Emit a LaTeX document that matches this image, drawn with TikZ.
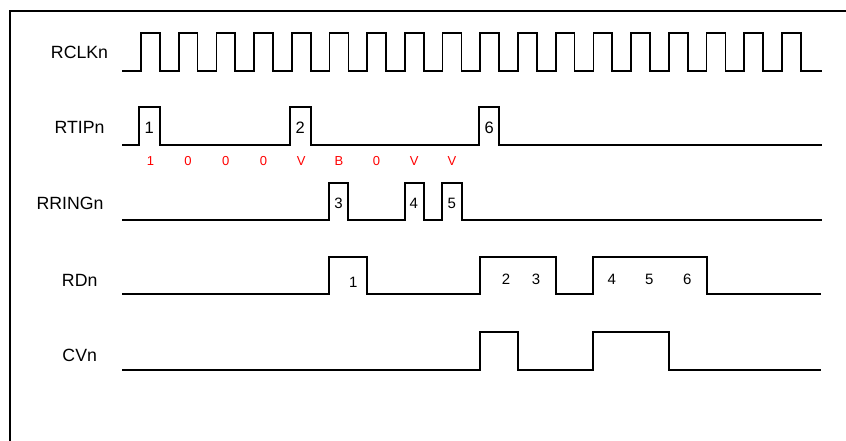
\documentclass[tikz,border=0pt]{standalone}
\usepackage{fontspec}
\setmainfont{Liberation Sans}
\usepackage{tikz}
\usetikzlibrary{positioning}

\begin{document}
\begin{tikzpicture}
    [ x = 1pt, y = -1pt
    , signame/.style =
      { inner sep = 0pt, font = \fontsize{17.7}{20}\selectfont }
    , pulselbl/.style =
      { inner sep = 0pt, font = \fontsize{15}{18}\selectfont }
    , bitlbl/.style =
      { inner sep = 0pt, red, font = \fontsize{13}{16}\selectfont }
    , wave/.style =
      { line width = 1.7pt }
    , outline/.style =
      { line width = 2.3pt }
    ]
    \useasboundingbox (0,0) rectangle (846,440);
    \draw [outline] (10,441) -- (10,11) -- (846,11);

    % signal names
    \node [signame] (rclk) at (79.5,52.3) {RCLKn};
    \node [signame] (rtip) at (79.5,127.7) {RTIPn};
    \node [signame] (rring) at (70,203.3) {RRINGn};
    \node [signame] (rd) at (79.7,280) {RDn};
    \node [signame] (cv) at (79.7,355) {CVn};

    % clock
    \draw [wave] (122,71)
      \foreach \k in {0,...,17}
        { -- ({141+\k*37.7},71) -- ({141+\k*37.7},33)
          -- ({159.85+\k*37.7},33) -- ({159.85+\k*37.7},71) }
      -- (821.5,71);

    % RTIPn
    \draw [wave] (122,144.7) -- (139.3,144.7) -- (139.3,107) -- (159.7,107)
      -- (159.7,144.7) -- (290,144.7) -- (290,107) -- (310.7,107)
      -- (310.7,144.7) -- (479.3,144.7) -- (479.3,107) -- (499.3,107)
      -- (499.3,144.7) -- (821.5,144.7);
    \node [pulselbl, font = \fontsize{16.5}{18}\selectfont] (tip1) at (149.3,127.7) {1};
    \node [pulselbl, font = \fontsize{16.5}{18}\selectfont] (tip2) at (300.3,127.7) {2};
    \node [pulselbl, font = \fontsize{16.5}{18}\selectfont] (tip6) at (489.3,127.7) {6};

    % line code
    \foreach \b/\t [count=\i] in {1/1,2/0,3/0,4/0,5/V,6/B,7/0,8/V,9/V}
      \node [bitlbl] (bit\i) at ({150.4+(\b-1)*37.7},161.5) {\t};

    % RRINGn
    \draw [wave] (122,220) -- (329.3,220) -- (329.3,182.7) -- (348.3,182.7)
      -- (348.3,220) -- (405,220) -- (405,182.7) -- (424,182.7)
      -- (424,220) -- (442.3,220) -- (442.3,182.7) -- (461.7,182.7)
      -- (461.7,220) -- (821.5,220);
    \node [pulselbl] (ring3) at (338.5,203) {3};
    \node [pulselbl] (ring4) at (413.7,203) {4};
    \node [pulselbl] (ring5) at (451.7,203) {5};

    % RDn
    \draw [wave] (122,294) -- (329.3,294) -- (329.3,256.7) -- (366.7,256.7)
      -- (366.7,294) -- (480,294) -- (480,256.7) -- (556,256.7)
      -- (556,294) -- (593.3,294) -- (593.3,256.7) -- (707.3,256.7)
      -- (707.3,294) -- (820.5,294);
    \node [pulselbl] (rd1) at (353.3,282.7) {1};
    \node [pulselbl] (rd2) at (506,279.3) {2};
    \node [pulselbl] (rd3) at (536,279.3) {3};
    \node [pulselbl] (rd4) at (611.7,279.3) {4};
    \node [pulselbl] (rd5) at (649.3,279.3) {5};
    \node [pulselbl] (rd6) at (687.3,279.3) {6};

    % CVn
    \draw [wave] (122,370) -- (480,370) -- (480,331.7) -- (517.7,331.7)
      -- (517.7,370) -- (593.3,370) -- (593.3,331.7) -- (669.3,331.7)
      -- (669.3,370) -- (820.5,370);
  \end{tikzpicture}
\end{document}
